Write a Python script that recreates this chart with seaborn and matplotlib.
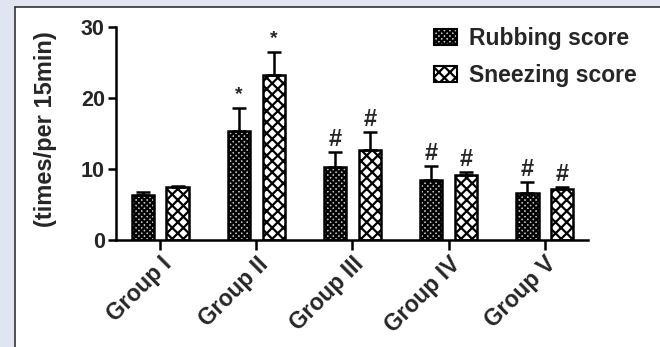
import matplotlib
matplotlib.use("Agg")
import matplotlib.pyplot as plt
import matplotlib.transforms as mtransforms
import seaborn as sns
import pandas as pd
import numpy as np
from matplotlib.patches import Rectangle
from matplotlib.lines import Line2D

groups = ["Group I", "Group II", "Group III", "Group IV", "Group V"]
series = ["Rubbing score", "Sneezing score"]
rubbing = [6.3, 15.3, 10.2, 8.4, 6.6]
rubbing_err = [0.4, 3.2, 2.2, 2.0, 1.6]
sneezing = [7.4, 23.2, 12.7, 9.2, 7.2]
sneezing_err = [0.2, 3.2, 2.5, 0.3, 0.2]
marks = ["", "*", "#", "#", "#"]
yticks = [0, 10, 20, 30]

sns.set_style("ticks")
plt.rcParams["font.family"] = ["Liberation Sans", "DejaVu Sans"]
plt.rcParams["font.weight"] = "bold"
plt.rcParams["hatch.linewidth"] = 1.6

df = pd.DataFrame({
    "group": groups * 2,
    "series": [series[0]] * 5 + [series[1]] * 5,
    "value": rubbing + sneezing,
})

fig = plt.figure(figsize=(6.6, 3.47), dpi=100)
fig.patch.set_facecolor("#e1e5f2")
fig.patches.append(Rectangle((15 / 660, 0), 1, 1 - 7 / 347, transform=fig.transFigure,
                             facecolor="white", edgecolor="none", zorder=-2))
fig.lines.append(Line2D([15 / 660, 15 / 660], [0, 1 - 7 / 347], transform=fig.transFigure,
                        color="#333333", lw=1.2))
fig.lines.append(Line2D([15 / 660, 1], [1 - 7 / 347, 1 - 7 / 347], transform=fig.transFigure,
                        color="#333333", lw=1.2))

ax = fig.add_axes([116 / 660, 1 - 240 / 347, (588 - 116) / 660, (240 - 26.7) / 347])
ax.set_facecolor("none")

sns.barplot(data=df, x="group", y="value", hue="series", order=groups, hue_order=series,
            palette=["white", "white"], width=0.72, gap=0.36, errorbar=None,
            edgecolor="black", linewidth=1.8, ax=ax, legend=False)

hatches = ["xxxxxx", "xxx"]
faces = ["#c8c8c8", "white"]
errs = [rubbing_err, sneezing_err]
vals = [rubbing, sneezing]
containers = list(ax.containers)
for s, cont in enumerate(containers):
    for i, bar in enumerate(cont):
        bar.set_hatch(hatches[s])
        bar.set_facecolor(faces[s])
        cx = bar.get_x() + bar.get_width() / 2
        ax.errorbar(cx, vals[s][i], yerr=[[0], [errs[s][i]]], fmt="none",
                    ecolor="black", elinewidth=1.8, capsize=4.7, capthick=1.8, zorder=1)
        if marks[i]:
            top = vals[s][i] + errs[s][i]
            if marks[i] == "*":
                ax.text(cx, top + 0.7, "*", ha="center", va="bottom", fontsize=14,
                        fontweight="bold")
            else:
                ax.text(cx, top + 0.15, "#", ha="center", va="bottom", fontsize=17,
                        fontweight="bold")

ax.set_ylim(0, 30)
ax.set_xlim(-0.46, 4.45)
ax.set_yticks(yticks)
ax.set_yticklabels([str(t) for t in yticks], fontsize=15.5, fontweight="bold")
ax.set_xticks(range(len(groups)))
ax.set_xticklabels(groups, rotation=45, ha="right", rotation_mode="anchor",
                   fontsize=16.5, fontweight="bold")
offset = mtransforms.ScaledTranslation(13 / 100, -7 / 100, fig.dpi_scale_trans)
for lab in ax.get_xticklabels():
    lab.set_transform(lab.get_transform() + offset)
ax.set_xlabel("")
ax.set_ylabel("(times/per 15min)", fontsize=17, fontweight="bold")
ax.yaxis.set_label_coords(-0.126, 0.52)
ax.tick_params(axis="both", width=1.8, length=6, color="black", pad=2)
ax.tick_params(axis="x", length=7)
sns.despine(ax=ax)
for sp in ["left", "bottom"]:
    ax.spines[sp].set_linewidth(1.8)
    ax.spines[sp].set_color("black")

handles = [Rectangle((0, 0), 1, 1, facecolor=faces[0], edgecolor="black", hatch=hatches[0], lw=1.5),
           Rectangle((0, 0), 1, 1, facecolor=faces[1], edgecolor="black", hatch=hatches[1], lw=1.5)]
leg = ax.legend(handles, series, loc="upper left", bbox_to_anchor=(0.655, 1.04), frameon=False,
                prop={"size": 16.5, "weight": "bold"}, handlelength=1.0, handleheight=0.7,
                handletextpad=0.5, labelspacing=0.6, borderaxespad=0)

fig.savefig("out.png", dpi=100, facecolor=fig.get_facecolor())
